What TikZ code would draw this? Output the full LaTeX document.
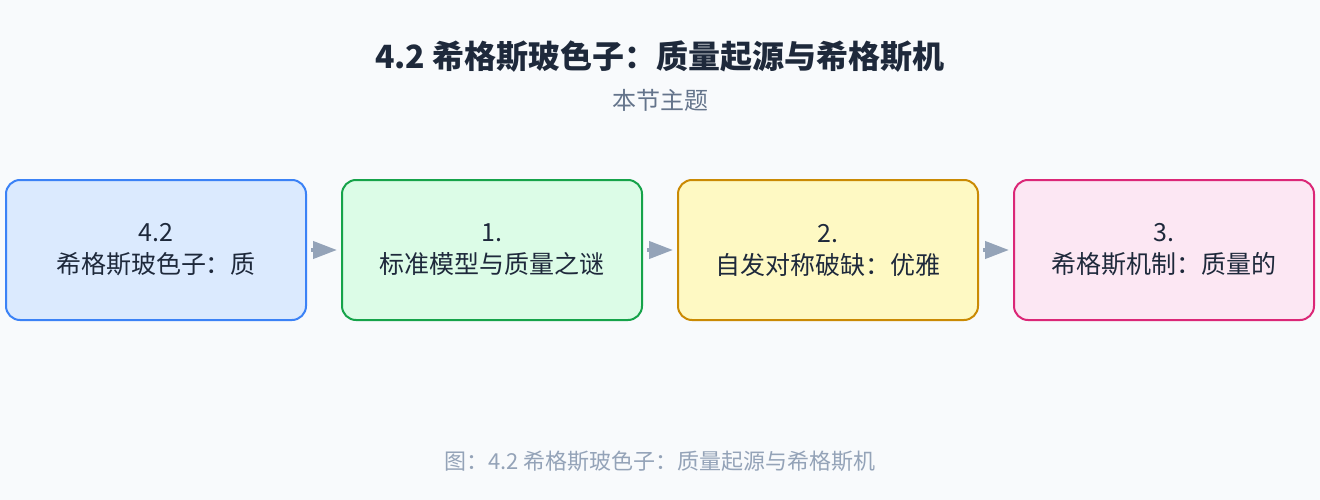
\documentclass[tikz,border=0pt]{standalone}
\usepackage{fontspec}
\setmainfont{Noto Sans CJK SC}
\usetikzlibrary{arrows.meta,positioning}

\definecolor{bgpage}{HTML}{F8FAFC}
\definecolor{titlecol}{HTML}{1E293B}
\definecolor{subcol}{HTML}{64748B}
\definecolor{capcol}{HTML}{94A3B8}
\definecolor{arrowcol}{HTML}{94A3B8}
\definecolor{blueline}{HTML}{3B82F6}
\definecolor{bluefill}{HTML}{DBEAFE}
\definecolor{greenline}{HTML}{16A34A}
\definecolor{greenfill}{HTML}{DCFCE7}
\definecolor{yellowline}{HTML}{CA8A04}
\definecolor{yellowfill}{HTML}{FEF9C3}
\definecolor{pinkline}{HTML}{DB2777}
\definecolor{pinkfill}{HTML}{FCE7F3}

\tikzset{
    stagebox/.style={draw, rounded corners=14pt, line width=2pt,
        minimum width=300pt, minimum height=140pt, align=center,
        text=titlecol, font=\fontsize{25}{32}\selectfont},
    flowarrow/.style={draw=arrowcol, line width=4pt, shorten <=4pt, shorten >=4pt,
        -{Triangle[length=24pt,width=17pt]}}
}

\begin{document}
\begin{tikzpicture}[x=1pt,y=-1pt]
    \fill[bgpage] (0,0) rectangle (1320,500);
    \useasboundingbox (0,0) rectangle (1320,500);
    % title
    \node[font=\fontsize{32}{36}\selectfont\bfseries, text=titlecol] (title) at (660,57)
        {4.2 希格斯玻色子：质量起源与希格斯机};
    \node[font=\fontsize{24}{28}\selectfont, text=subcol] (subtitle) at (660,100) {本节主题};
    % stages
    \node[stagebox, draw=blueline, fill=bluefill] (s0) at (156,250)
        {4.2\\希格斯玻色子：质};
    \node[stagebox, draw=greenline, fill=greenfill, right=34pt of s0] (s1)
        {1.\\标准模型与质量之谜};
    \node[stagebox, draw=yellowline, fill=yellowfill, right=34pt of s1] (s2)
        {2.\\自发对称破缺：优雅};
    \node[stagebox, draw=pinkline, fill=pinkfill, right=34pt of s2] (s3)
        {3.\\希格斯机制：质量的};
    % arrows
    \foreach \a/\b in {s0/s1,s1/s2,s2/s3}
        \draw[flowarrow] (\a.east) -- (\b.west);
    % caption
    \node[font=\fontsize{22}{26}\selectfont, text=capcol] (caption) at (660,461)
        {图：4.2 希格斯玻色子：质量起源与希格斯机};
\end{tikzpicture}
\end{document}
